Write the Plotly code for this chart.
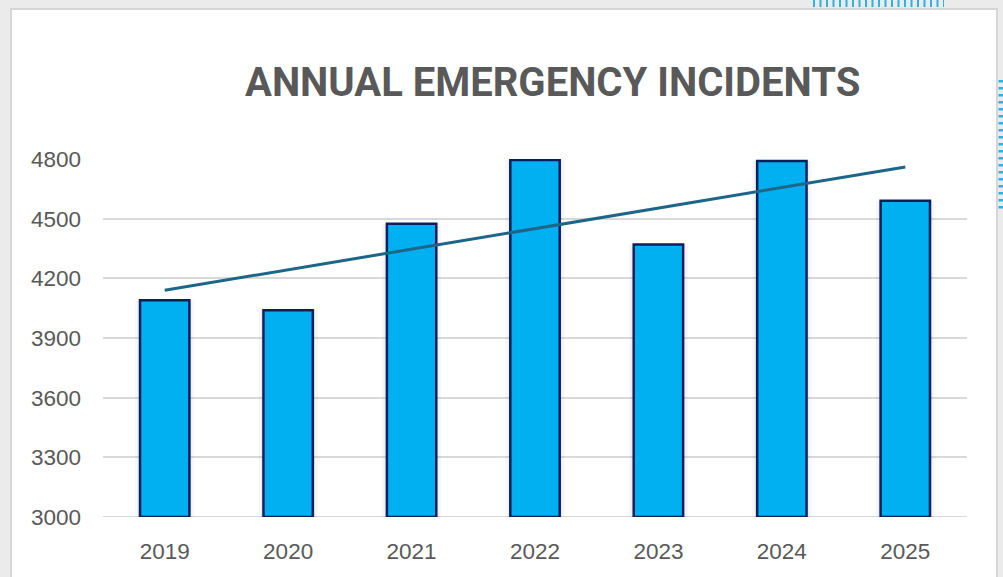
import numpy as np
import plotly.graph_objects as go

years = ["2019", "2020", "2021", "2022", "2023", "2024", "2025"]
incidents = [4090, 4040, 4475, 4795, 4370, 4790, 4590]
y_ticks = [3000, 3300, 3600, 3900, 4200, 4500, 4800]
title_text = "ANNUAL EMERGENCY INCIDENTS"

W, H = 1003, 577
ML, MR, MT, MB = 103, 36, 159, 60
PW, PH = W - ML - MR, H - MT - MB
BASE = y_ticks[0]


def px(x):
    return (x - ML) / PW


def py(y):
    return (H - MB - y) / PH


# linear trend computed from the data
idx = np.arange(1, len(incidents) + 1)
slope, intercept = np.polyfit(idx, incidents, 1)
trend = slope * idx + intercept
heights = [v - BASE for v in incidents]

fig = go.Figure()
# soft shadow layers behind bars
for w, a in [(0.48, 0.03), (0.44, 0.045)]:
    fig.add_trace(go.Bar(x=years, y=heights, base=BASE, width=w,
                         marker=dict(color=f"rgba(0,0,0,{a})", line=dict(width=0)),
                         hoverinfo="skip", showlegend=False))
fig.add_trace(go.Bar(x=years, y=heights, base=BASE, width=0.4,
                     marker=dict(color="#00b0f0", line=dict(color="#0b1f5e", width=2.5)),
                     showlegend=False))
fig.add_trace(go.Scatter(x=years, y=trend, mode="lines",
                         line=dict(color="#1d6688", width=3), showlegend=False))

shapes = [
    # white panel with border
    dict(type="rect", xref="paper", yref="paper", x0=px(11), x1=px(997), y0=py(590), y1=py(9),
         fillcolor="white", line=dict(color="#d6d6d6", width=2), layer="below"),
    # decorative dotted bands
    dict(type="line", xref="paper", yref="paper", x0=px(813), x1=px(944), y0=py(3), y1=py(3),
         line=dict(color="#2bb3e6", width=8, dash="2px,4.5px"), layer="below"),
    dict(type="line", xref="paper", yref="paper", x0=px(1001), x1=px(1001), y0=py(80), y1=py(212),
         line=dict(color="#2bb3e6", width=5, dash="2.5px,4.5px"), layer="below"),
]

fig.update_layout(
    width=W, height=H,
    margin=dict(l=ML, r=MR, t=MT, b=MB, autoexpand=False),
    paper_bgcolor="#ebebeb", plot_bgcolor="white",
    barmode="overlay",
    shapes=shapes,
    annotations=[dict(text=f"<b>{title_text}</b>", xref="paper", yref="paper",
                      x=px(552), y=py(83), xanchor="center", yanchor="middle",
                      showarrow=False,
                      font=dict(family="Roboto", size=40, color="#595959"))],
    xaxis=dict(type="category", range=[-0.5, 6.5], showgrid=False, showline=False,
               ticks="", ticklabelstandoff=18,
               tickfont=dict(family="Liberation Sans", size=22.5, color="#595959")),
    yaxis=dict(range=[3000, 4800], tickvals=y_ticks, showgrid=True, gridcolor="#d9d9d9",
               gridwidth=2, zeroline=False, showline=False, ticks="", ticklabelstandoff=21,
               tickfont=dict(family="Liberation Sans", size=22.5, color="#595959")),
)
# axis line at baseline
fig.add_hline(y=BASE, line=dict(color="#d9d9d9", width=2), layer="below")

fig.write_html("out.html")
